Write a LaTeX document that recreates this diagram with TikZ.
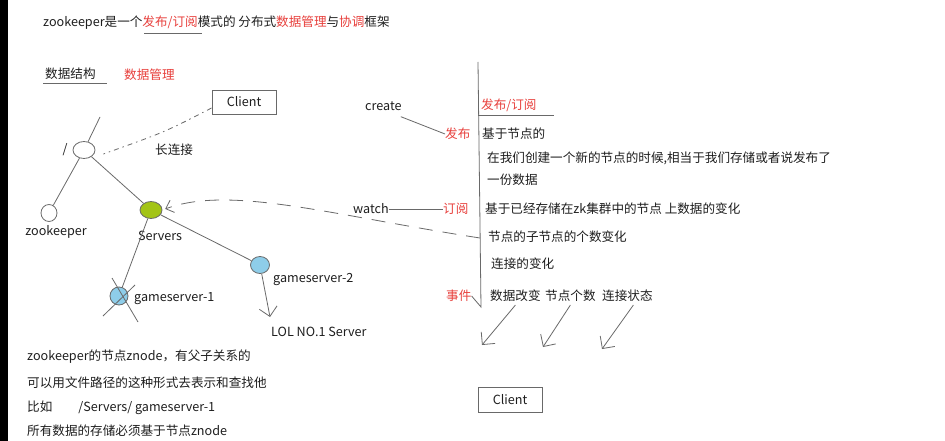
\documentclass[tikz,border=0pt]{standalone}
\usepackage{fontspec}
\setmainfont{Noto Sans CJK SC}
\usetikzlibrary{shapes.geometric, arrows.meta, positioning}
\definecolor{zkred}{RGB}{232,64,60}
\definecolor{zkgreen}{RGB}{163,196,22}
\definecolor{zkblue}{RGB}{142,205,233}
\definecolor{zkline}{RGB}{105,105,105}
\definecolor{zktext}{RGB}{30,30,30}

\begin{document}
\begin{tikzpicture}[x=1pt, y=-1pt,
      every node/.style={font=\fontsize{12.6}{15}\selectfont, text=zktext, inner sep=0pt},
      txt/.style={anchor=west},
      redtxt/.style={anchor=west, text=zkred},
      znode/.style={draw=zkline, ellipse, line width=0.8pt, fill=white},
      box/.style={draw=zkline, line width=0.9pt, minimum width=64pt, minimum height=24pt},
      ln/.style={draw=zkline, line width=0.8pt},
      arr/.style={ln, -{Straight Barb[length=9pt,width=18pt]}},
      watcharr/.style={ln, dash pattern=on 14pt off 10pt, -{Straight Barb[length=7pt,width=13pt]}},
      dashdot/.style={ln, dash pattern=on 5pt off 4pt on 1.5pt off 4pt}
    ]
      \fill[white] (0,0) rectangle (945,441);
      \fill[black] (0,0) rectangle (8,441);
      \useasboundingbox (0,0) rectangle (945,441);

      \node[txt] (title) at (43,23) {zookeeper是一个{\color{zkred}发布/订阅}模式的 分布式{\color{zkred}数据管理}与{\color{zkred}协调}框架};
      \draw[ln] (144,33) -- (202,33);

      \node[txt] (struct) at (45,74) {数据结构};
      \draw[ln] (43,83) -- (107,83);
      \node[redtxt] (datamgr) at (124,75) {数据管理};

      \node[box] (cltop) at (244,102) {Client};
      \node[znode, minimum width=22pt, minimum height=17pt] (root) at (84,150) {};
      \node (rootlbl) at (65,150) {/};
      \coordinate (roottop) at (100,117);
      \node[znode, minimum width=16pt, minimum height=17pt] (zk) at (49,213) {};
      \node (zklbl) at (56,232) {zookeeper};
      \node[znode, fill=zkgreen, minimum width=22pt, minimum height=17pt] (servers) at (151,210) {};
      \node (srvlbl) at (160,236) {Servers};
      \node[znode, fill=zkblue, minimum width=18pt, minimum height=18pt] (gs1) at (119,296) {};
      \node[txt] (gs1lbl) at (134,299) {gameserver-1};
      \node[znode, fill=zkblue, minimum width=19pt, minimum height=17pt] (gs2) at (260,265) {};
      \node[txt] (gs2lbl) at (273,279) {gameserver-2};
      \node[txt] (lol) at (271,332) {LOL NO.1 Server};
      \coordinate (lolin) at (270,317);
      \node[txt] (longconn) at (155,150) {长连接};

      \draw[ln] (roottop) -- (root) -- (zk);
      \draw[ln] (root) -- (servers);
      \draw[ln] (servers) -- (gs1);
      \draw[ln] (servers) -- (gs2);
      \draw[arr] (gs2) -- (lolin);
      \draw[ln] ([shift={(-7,-18)}]gs1.center) -- ([shift={(19,26)}]gs1.center);
      \draw[ln] ([shift={(16,-11)}]gs1.center) -- ([shift={(-16,20)}]gs1.center);
      \draw[dashdot] ([yshift=-6pt]cltop.west) .. controls (165,132) .. ([xshift=8pt,yshift=-4pt]root.east);

      \node[txt] (create) at (365,106) {create};
      \node[redtxt] (pub) at (445,134) {发布};
      \node[txt] (watch) at (353,209) {watch};
      \node[redtxt] (sub) at (443,209) {订阅};
      \node[redtxt] (event) at (446,296) {事件};
      \draw[ln] ([shift={(-1,6)}]create.south east) -- (pub.west);
      \draw[ln] (watch.east) -- (sub.west);

      \node[redtxt] (pubsub) at (481,105) {发布/订阅};
      \draw[ln] (478,115) -- (554,115);
      \coordinate (vtop) at (478,62);
      \coordinate (vbot) at (481,307);
      \draw[ln] (vtop) -- (vbot) -- (event.east);

      \node[txt] (n1) at (482,134) {基于节点的};
      \node[txt] (n2) at (487,158) {在我们创建一个新的节点的时候,相当于我们存储或者说发布了};
      \node[txt] (n3) at (487,180) {一份数据};
      \node[txt] (n4) at (485,209) {基于已经存储在zk集群中的节点 上数据的变化};
      \node[txt] (n5) at (488,237) {节点的子节点的个数变化};
      \node[txt] (n6) at (491,264) {连接的变化};
      \coordinate (subend) at (480,238);
      \draw[watcharr, shorten >=3pt] (subend) .. controls (330,215) and (230,185) .. (servers.east);

      \node[txt] (ev1) at (490,296) {数据改变};
      \node[txt] (ev2) at (545,296) {节点个数};
      \node[txt] (ev3) at (602,296) {连接状态};
      \coordinate (to1) at (482,345);
      \coordinate (to2) at (543,347);
      \coordinate (to3) at (602,349);
      \draw[arr] ([yshift=-3pt]ev1.south) -- (to1);
      \draw[arr] ([yshift=-3pt]ev2.south) -- (to2);
      \draw[arr] ([xshift=6pt,yshift=-3pt]ev3.south) -- (to3);
      \node[box, minimum height=25pt] (clbot) at (510,400) {Client};

      \node[txt] (d1) at (27,357) {zookeeper的节点znode，有父子关系的};
      \node[txt] (d2) at (27,383) {可以用文件路径的这种形式去表示和查找他};
      \node[txt] (d3) at (27,408) {比如\hspace{26pt}/Servers/ gameserver-1};
      \node[txt] (d4) at (27,431) {所有数据的存储必须基于节点znode};
    \end{tikzpicture}
\end{document}
